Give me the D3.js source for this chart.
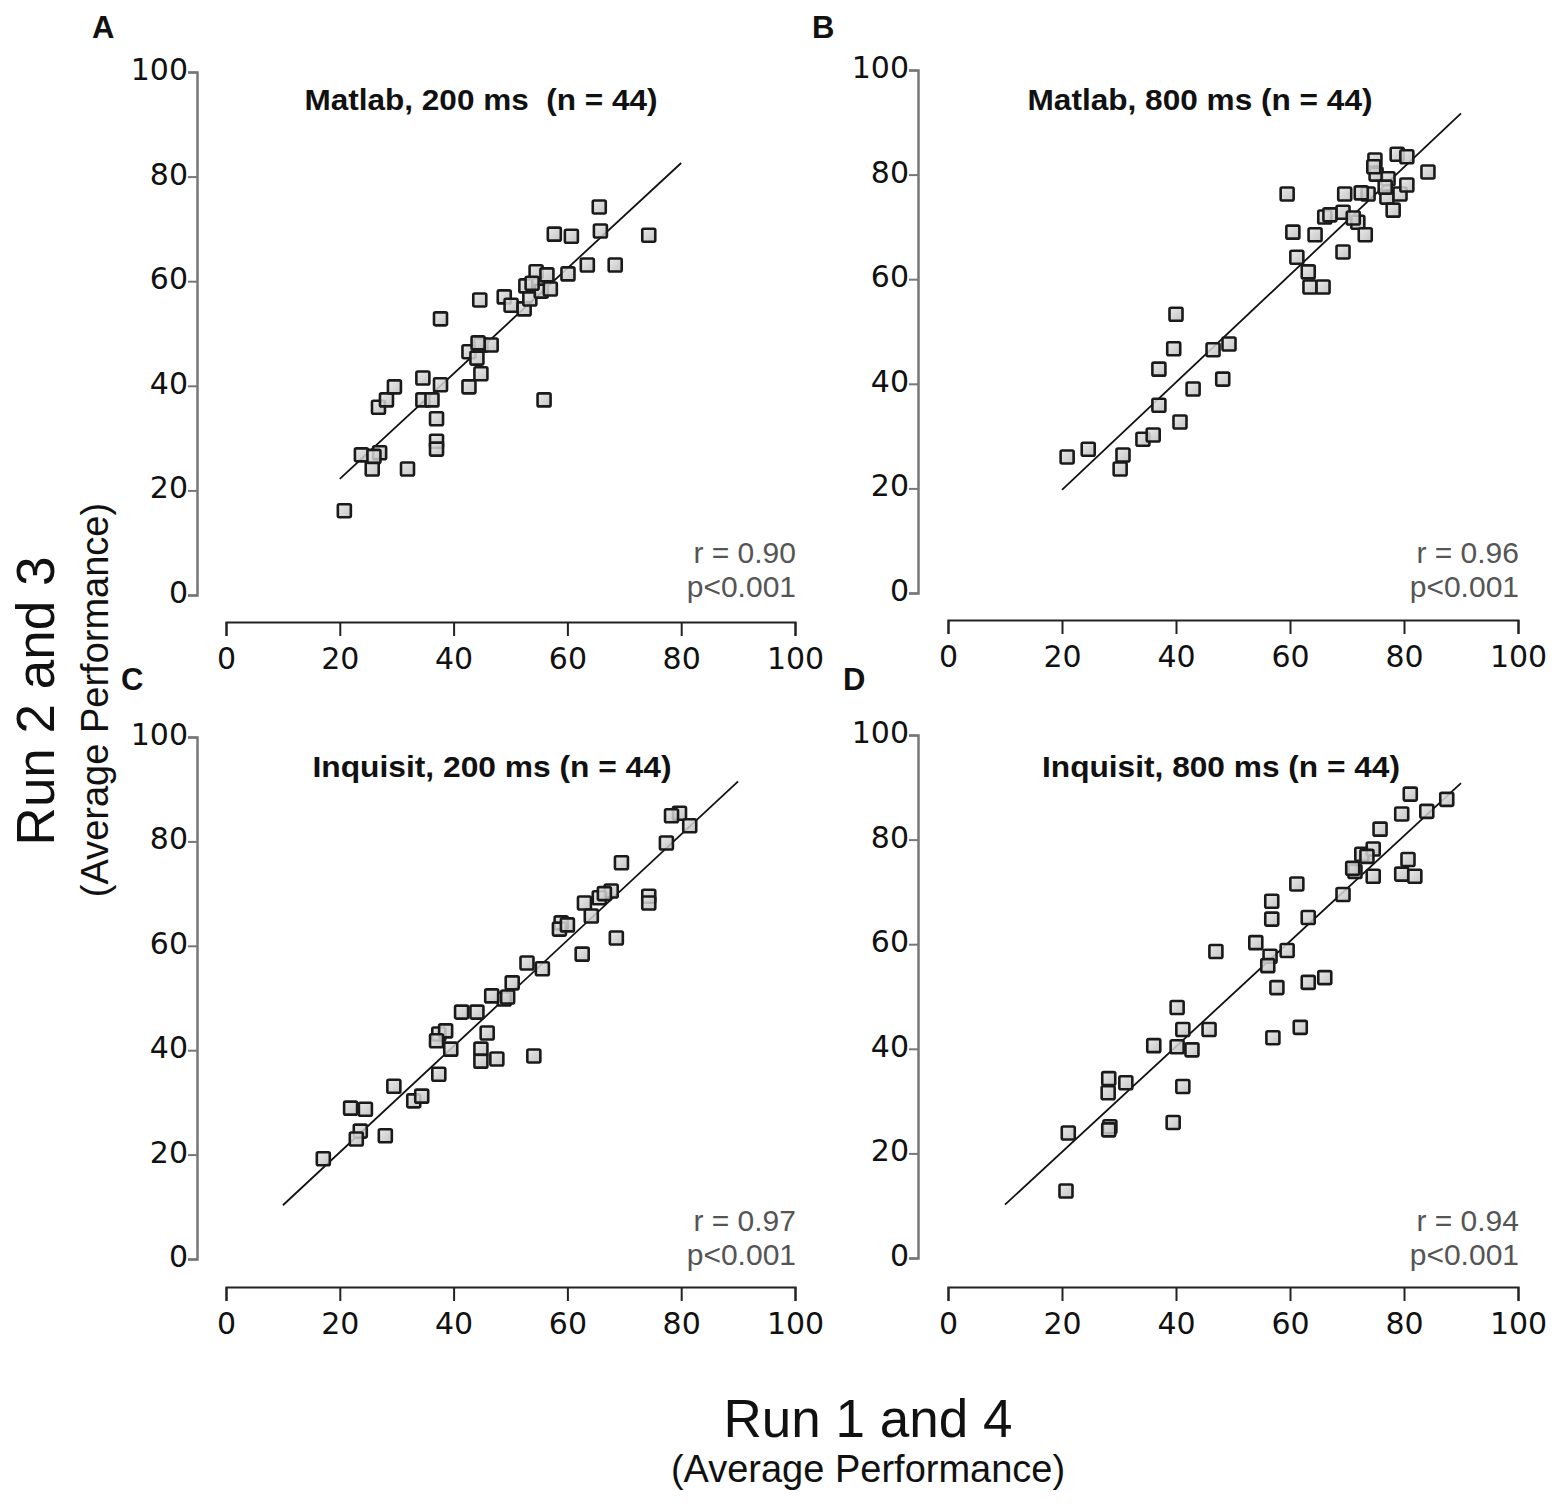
<!DOCTYPE html>
<html>
<head>
<meta charset="utf-8">
<script src="https://cdn.jsdelivr.net/npm/d3@7"></script>
<style>
  body { margin: 0; background: #fff; }
  .tick text { font-family: "DejaVu Sans", sans-serif; font-size: 30px; fill: #111; }
</style>
</head>
<body>
<div id="chart"></div>
<script>
// values: [run 1&4, run 2&3]
const matlab200 = [
  [20.8,16.1],[23.8,26.8],[25.7,24.1],[27.0,27.2],[26.8,35.9],[28.2,37.3],[29.6,39.8],[31.9,24.1],
  [34.6,41.5],[34.6,37.3],[36.2,37.3],[37.0,33.7],[37.0,29.4],[37.0,27.9],[37.7,40.2],[37.7,52.8],
  [42.7,39.8],[42.7,46.5],[44.1,45.3],[44.6,56.4],[44.8,47.8],[44.8,42.3],[46.6,47.8],[48.9,57.0],
  [50.1,55.4],[52.4,54.7],[52.7,59.1],[53.4,56.6],[54.5,61.8],[55.9,37.3],[55.4,58.1],[56.4,61.2],
  [57.0,58.5],[57.7,69.0],[60.1,61.4],[60.7,68.6],[63.5,63.1],[65.6,74.2],[65.8,69.6],[68.4,63.1],
  [74.3,68.8],[26.0,26.5],[44.3,48.2],[53.8,59.6]
];
const matlab800 = [
  [20.9,26.0],[24.6,27.5],[30.2,23.7],[30.7,26.4],[34.2,29.4],[36.0,30.2],[37.0,42.8],[37.0,35.9],
  [40.7,32.7],[39.6,46.7],[40.0,53.3],[43.0,39.0],[46.5,46.5],[49.3,47.6],[48.2,40.9],
  [59.5,76.3],[69.6,76.3],[73.7,76.3],[74.9,82.8],[75.1,80.1],[78.8,83.9],[80.5,83.4],[84.2,80.5],
  [66.1,71.9],[69.3,72.8],[71.9,70.9],[73.2,68.5],[77.0,75.7],[79.3,76.3],[80.5,78.0],[78.1,73.2],
  [77.2,79.2],[60.5,69.0],[64.4,68.5],[61.2,64.2],[63.2,61.4],[63.5,58.5],[65.8,58.5],[69.3,65.2],
  [71.1,71.7],[74.7,81.5],[72.5,76.5],[67.0,72.3],[76.7,77.6]
];
const inquisit200 = [
  [79.7,85.4],[78.3,84.9],[81.5,83.0],[77.4,79.7],[69.5,75.9],[67.7,70.5],[65.6,69.2],[63.0,68.2],
  [64.2,65.7],[74.3,69.5],[74.3,68.2],[68.6,61.5],[62.6,58.4],[58.9,64.4],[58.6,63.2],[52.9,56.7],
  [55.6,55.6],[50.3,52.9],[48.9,49.8],[54.1,38.9],
  [41.4,47.3],[44.1,47.3],[46.7,50.4],[45.9,43.3],[44.8,40.2],[44.8,37.9],[47.6,38.3],[37.4,43.1],
  [38.6,43.7],[37.0,41.8],[39.5,40.2],[37.4,35.4],[29.5,33.1],[33.0,30.3],[34.4,31.2],[21.9,28.9],
  [24.5,28.7],[23.6,24.5],[22.9,23.0],[28.0,23.6],[17.1,19.2],[66.5,70.0],[60.0,64.0],[49.5,50.2]
];
const inquisit800 = [
  [20.7,12.8],[21.1,23.9],[28.4,25.1],[28.2,24.5],[28.2,34.3],[28.1,31.6],[31.2,33.5],[39.5,25.9],
  [41.2,32.8],[36.1,40.6],[40.2,40.4],[42.8,39.8],[41.2,43.7],[40.2,47.9],[45.8,43.7],[47.0,58.6],
  [54.0,60.3],[56.5,57.7],[59.5,58.8],[56.1,55.9],[57.7,51.7],[63.2,52.7],[66.1,53.6],[57.0,42.1],
  [61.8,44.1],
  [61.2,71.5],[63.2,65.1],[69.3,69.5],[71.4,73.9],[72.6,77.2],[74.6,78.2],[74.6,73.0],[75.8,82.0],
  [79.6,84.9],[81.1,88.7],[84.0,85.4],[87.5,87.7],[80.7,76.2],[79.6,73.4],[81.9,73.0],
  [56.8,68.2],[56.8,64.8],[71.0,74.5],[73.5,76.8]
];

// fitted lines (end points)
const fitMatlab200 = [[20, 22.2], [80, 82.6]];
const fitMatlab800 = [[20, 19.7], [90, 91.7]];
const fitInquisit200 = [[10, 10.3], [90, 91.5]];
const fitInquisit800 = [[10, 10.2], [90, 90.8]];

const panelLetters = ['A', 'B', 'C', 'D'];
const panelTitles = [
  'Matlab, 200 ms  (n = 44)',
  'Matlab, 800 ms (n = 44)',
  'Inquisit, 200 ms (n = 44)',
  'Inquisit, 800 ms (n = 44)'
];
const rValues = ['r = 0.90', 'r = 0.96', 'r = 0.97', 'r = 0.94'];
const pLabel = 'p<0.001';
const tickValues = [0, 20, 40, 60, 80, 100];

const datasets = [matlab200, matlab800, inquisit200, inquisit800];
const fits = [fitMatlab200, fitMatlab800, fitInquisit200, fitInquisit800];

// pixel layout of each panel
const layout = [
  { x0: 226, x1: 795, y0: 595, y1: 72, yAxisX: 197, xAxisY: 622, titleX: 481, titleY: 110, titleW: 353, letterX: 92, letterY: 38, statY: 563 },
  { x0: 948, x1: 1518, y0: 593, y1: 70, yAxisX: 918, xAxisY: 620, titleX: 1200, titleY: 110, titleW: 345, letterX: 812, letterY: 38, statY: 563 },
  { x0: 226, x1: 795, y0: 1259, y1: 737, yAxisX: 197, xAxisY: 1287, titleX: 492, titleY: 777, titleW: 359, letterX: 121, letterY: 690, statY: 1231 },
  { x0: 948, x1: 1518, y0: 1258, y1: 735, yAxisX: 918, xAxisY: 1287, titleX: 1221, titleY: 777, titleW: 358, letterX: 843, letterY: 690, statY: 1231 }
];

const width = 1562;
const height = 1508;
const markerSize = 13;

const svg = d3.select('#chart')
  .append('svg')
  .attr('width', width)
  .attr('height', height);

const defs = svg.append('defs');
const grad = defs.append('linearGradient')
  .attr('id', 'markerFill')
  .attr('x1', 0).attr('y1', 0).attr('x2', 1).attr('y2', 1);
grad.append('stop').attr('offset', '0%').attr('stop-color', '#e6e6e6');
grad.append('stop').attr('offset', '100%').attr('stop-color', '#bbbbbb');

datasets.forEach((data, i) => {
  const L = layout[i];
  const xScale = d3.scaleLinear().domain([0, 100]).range([L.x0, L.x1]);
  const yScale = d3.scaleLinear().domain([0, 100]).range([L.y0, L.y1]);

  const g = svg.append('g');

  // y axis
  const yAxis = d3.axisLeft(yScale)
    .tickValues(tickValues)
    .tickSize(9)
    .tickPadding(0);
  const yAxisGroup = g.append('g')
    .attr('transform', `translate(${L.yAxisX}, 0)`)
    .call(yAxis);
  yAxisGroup.select('.domain').attr('stroke', '#777').attr('stroke-width', 2.5);
  yAxisGroup.selectAll('.tick line').attr('stroke', '#777').attr('stroke-width', 2);
  yAxisGroup.selectAll('.tick text').attr('dy', '0.25em');

  // x axis
  const xAxis = d3.axisBottom(xScale)
    .tickValues(tickValues)
    .tickSize(14)
    .tickPadding(12);
  const xAxisGroup = g.append('g')
    .attr('transform', `translate(0, ${L.xAxisY})`)
    .call(xAxis);
  xAxisGroup.select('.domain').attr('stroke', '#222').attr('stroke-width', 2);
  xAxisGroup.selectAll('.tick line').attr('stroke', '#222').attr('stroke-width', 2);

  // fit line
  g.append('line')
    .attr('x1', xScale(fits[i][0][0]))
    .attr('y1', yScale(fits[i][0][1]))
    .attr('x2', xScale(fits[i][1][0]))
    .attr('y2', yScale(fits[i][1][1]))
    .attr('stroke', '#111')
    .attr('stroke-width', 1.8);

  // markers
  g.append('g')
    .selectAll('rect')
    .data(data)
    .join('rect')
    .attr('x', (d) => xScale(d[0]) - markerSize / 2)
    .attr('y', (d) => yScale(d[1]) - markerSize / 2)
    .attr('width', markerSize)
    .attr('height', markerSize)
    .attr('rx', 1.5)
    .attr('fill', 'url(#markerFill)')
    .attr('fill-opacity', 0.85)
    .attr('stroke', '#1a1a1a')
    .attr('stroke-width', 2.6);

  // title
  g.append('text')
    .attr('x', L.titleX)
    .attr('y', L.titleY)
    .attr('text-anchor', 'middle')
    .attr('textLength', L.titleW)
    .attr('lengthAdjust', 'spacingAndGlyphs')
    .style('white-space', 'pre')
    .style('font-family', '"Liberation Sans", Arial, sans-serif')
    .style('font-weight', 'bold')
    .style('font-size', '29px')
    .attr('fill', '#111')
    .text(panelTitles[i]);

  // panel letter
  g.append('text')
    .attr('x', L.letterX)
    .attr('y', L.letterY)
    .style('font-family', '"Liberation Sans", Arial, sans-serif')
    .style('font-weight', 'bold')
    .style('font-size', '31px')
    .attr('fill', '#111')
    .text(panelLetters[i]);

  // stats
  const statX = L.x1 + 1;
  g.append('text')
    .attr('x', statX)
    .attr('y', L.statY)
    .attr('text-anchor', 'end')
    .style('font-family', '"Liberation Sans", Arial, sans-serif')
    .style('font-size', '30px')
    .attr('fill', '#555')
    .text(rValues[i]);
  g.append('text')
    .attr('x', statX)
    .attr('y', L.statY + 34)
    .attr('text-anchor', 'end')
    .style('font-family', '"Liberation Sans", Arial, sans-serif')
    .style('font-size', '30px')
    .attr('fill', '#555')
    .text(pLabel);
});

// shared axis titles
svg.append('text')
  .attr('transform', 'translate(54, 701) rotate(-90)')
  .attr('text-anchor', 'middle')
  .style('font-family', '"Liberation Sans", Arial, sans-serif')
  .style('font-size', '53px')
  .attr('fill', '#111')
  .text('Run 2 and 3');

svg.append('text')
  .attr('transform', 'translate(108, 700) rotate(-90)')
  .attr('text-anchor', 'middle')
  .style('font-family', '"Liberation Sans", Arial, sans-serif')
  .style('font-size', '38px')
  .attr('fill', '#111')
  .text('(Average Performance)');

svg.append('text')
  .attr('x', 868)
  .attr('y', 1437)
  .attr('text-anchor', 'middle')
  .style('font-family', '"Liberation Sans", Arial, sans-serif')
  .style('font-size', '53px')
  .attr('fill', '#111')
  .text('Run 1 and 4');

svg.append('text')
  .attr('x', 868)
  .attr('y', 1482)
  .attr('text-anchor', 'middle')
  .style('font-family', '"Liberation Sans", Arial, sans-serif')
  .style('font-size', '38px')
  .attr('fill', '#111')
  .text('(Average Performance)');
</script>
</body>
</html>
